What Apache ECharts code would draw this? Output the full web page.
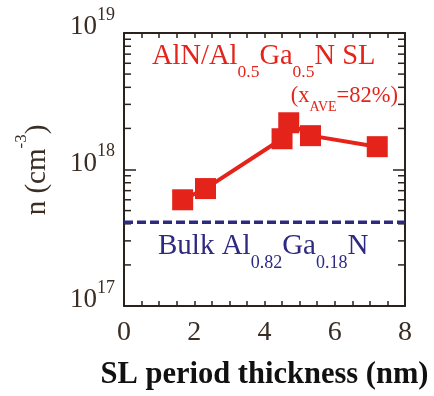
<!DOCTYPE html>
<html>
<head>
<meta charset="utf-8">
<script src="https://cdn.jsdelivr.net/npm/echarts@6/dist/echarts.min.js"></script>
<style>
  html, body { margin: 0; padding: 0; background: #ffffff; }
  #chart { width: 434px; height: 396px; }
</style>
</head>
<body>
<div id="chart"></div>
<script>
// Superlattice period (nm) and measured electron concentration (cm^-3)
const periodNm = [1.67, 2.32, 4.50, 4.69, 5.31, 7.21];
const carrierConc = [6.0e17, 7.25e17, 1.68e18, 2.2e18, 1.77e18, 1.47e18];
// Reference level for bulk Al0.82Ga0.18N
const bulkConc = 4.1e17;
const bulkSpan = [0, 8];
// Axis ranges and tick values
const xTickValues = [0, 2, 4, 6, 8];
const yRange = [1e17, 1e19];
const yMinorTicks = [2e17, 3e17, 4e17, 5e17, 6e17, 7e17, 8e17, 9e17,
                     2e18, 3e18, 4e18, 5e18, 6e18, 7e18, 8e18, 9e18];

const serif = '"Liberation Serif", "Times New Roman", Times, serif';
const inkColor = '#3a2d24';
const frameColor = '#2a221d';
const slRed = '#e4241b';
const bulkBlue = '#2e2a80';

// rich-text helpers: a main run and a lowered / raised small run
const mainRun = (size, color, lh) => ({ fontFamily: serif, fontSize: size, lineHeight: lh, fill: color, color: color });
const subRun = (size, color, drop) => ({ fontFamily: serif, fontSize: size, padding: [drop, 0, 0, 0], fill: color, color: color });
const supRun = (size, color, rise) => ({ fontFamily: serif, fontSize: size, padding: [0, 0, rise, 0], fill: color, color: color });

const chart = echarts.init(document.getElementById('chart'), null, { renderer: 'canvas' });

const xAxisBase = {
  type: 'value',
  min: xTickValues[0],
  max: xTickValues[xTickValues.length - 1],
  interval: 2,
  splitLine: { show: false },
  axisLine: { show: true, onZero: false, lineStyle: { color: frameColor, width: 2 } },
  axisTick: { show: true, inside: true, length: 5, lineStyle: { color: frameColor, width: 1.5 } },
  minorTick: { show: true, splitNumber: 4, length: 5, lineStyle: { color: frameColor, width: 1.5 } },
  minorSplitLine: { show: false }
};

const yAxisBase = {
  type: 'log',
  logBase: 10,
  min: yRange[0],
  max: yRange[1],
  splitLine: { show: false },
  axisLine: { show: true, onZero: false, lineStyle: { color: frameColor, width: 2 } },
  axisTick: { show: true, inside: true, length: 12, lineStyle: { color: frameColor, width: 1.5 } },
  minorTick: { show: false }
};

const option = {
  animation: false,
  backgroundColor: '#ffffff',
  grid: { left: 124, right: 29, top: 33, bottom: 88, containLabel: false },
  xAxis: [
    Object.assign({}, xAxisBase, {
      position: 'bottom',
      axisLabel: {
        show: true, margin: 13, color: inkColor, fontFamily: serif, fontSize: 28,
        formatter: v => String(v)
      },
      name: 'SL period thickness (nm)',
      nameLocation: 'middle',
      nameGap: 54,
      nameTextStyle: { color: '#111111', fontFamily: serif, fontSize: 30.5, fontWeight: 'bold' }
    }),
    Object.assign({}, xAxisBase, { position: 'top', axisLabel: { show: false } })
  ],
  yAxis: [
    Object.assign({}, yAxisBase, {
      position: 'left',
      axisLabel: {
        show: true, margin: 9, color: inkColor, fontFamily: serif,
        padding: [0, 0, 12, 0],
        formatter: v => '{b|10}{p|' + Math.round(Math.log10(v)) + '}',
        rich: {
          b: mainRun(27, inkColor, 34),
          p: supRun(18, inkColor, 24)
        }
      }
    }),
    Object.assign({}, yAxisBase, { position: 'right', axisLabel: { show: false } })
  ],
  series: [
    {
      // decade subdivisions (2..9) on both vertical edges of the frame
      type: 'custom',
      xAxisIndex: 0,
      yAxisIndex: 0,
      silent: true,
      clip: false,
      data: yMinorTicks.map(v => [0, v]),
      renderItem: (params, api) => {
        const v = api.value(1);
        const l = api.coord([xTickValues[0], v]);
        const r = api.coord([xTickValues[xTickValues.length - 1], v]);
        const st = { stroke: frameColor, lineWidth: 1.5 };
        return {
          type: 'group',
          children: [
            { type: 'line', shape: { x1: l[0], y1: l[1], x2: l[0] + 7, y2: l[1] }, style: st },
            { type: 'line', shape: { x1: r[0], y1: r[1], x2: r[0] - 7, y2: r[1] }, style: st }
          ]
        };
      }
    },
    {
      name: 'Bulk',
      type: 'line',
      xAxisIndex: 0,
      yAxisIndex: 0,
      silent: true,
      symbol: 'none',
      data: bulkSpan.map(x => [x, bulkConc]),
      lineStyle: { color: bulkBlue, width: 3.5, type: [9, 4], cap: 'butt' },
      z: 2
    },
    {
      name: 'SL',
      type: 'line',
      xAxisIndex: 0,
      yAxisIndex: 0,
      silent: true,
      symbol: 'rect',
      symbolSize: 21,
      data: periodNm.map((x, i) => [x, carrierConc[i]]),
      lineStyle: { color: slRed, width: 4 },
      itemStyle: { color: slRed },
      z: 3
    }
  ],
  graphic: [
    {
      type: 'text',
      x: 152, y: 57,
      style: {
        text: '{m|AlN/Al}{s|0.5}{m|Ga}{s|0.5}{m|N SL}',
        align: 'left', verticalAlign: 'middle',
        rich: { m: mainRun(28.5, slRed, 30), s: subRun(17.5, slRed, 30) }
      }
    },
    {
      type: 'text',
      x: 398, y: 96,
      style: {
        text: '{m|(x}{s|AVE}{m|=82%)}',
        align: 'right', verticalAlign: 'middle',
        rich: { m: mainRun(22.5, slRed, 24), s: subRun(14, slRed, 23) }
      }
    },
    {
      type: 'text',
      x: 158, y: 246.5,
      style: {
        text: '{m|Bulk Al}{s|0.82}{m|Ga}{s|0.18}{m|N}',
        align: 'left', verticalAlign: 'middle',
        rich: { m: mainRun(29, bulkBlue, 30), s: subRun(18, bulkBlue, 34) }
      }
    },
    {
      type: 'text',
      x: 37.5, y: 170,
      rotation: Math.PI / 2,
      style: {
        text: '{a|n (cm}{s|-3}{a|)}',
        align: 'center', verticalAlign: 'middle',
        rich: { a: mainRun(29, inkColor, 34), s: supRun(17, inkColor, 31) }
      }
    }
  ]
};

chart.setOption(option);
</script>
</body>
</html>
